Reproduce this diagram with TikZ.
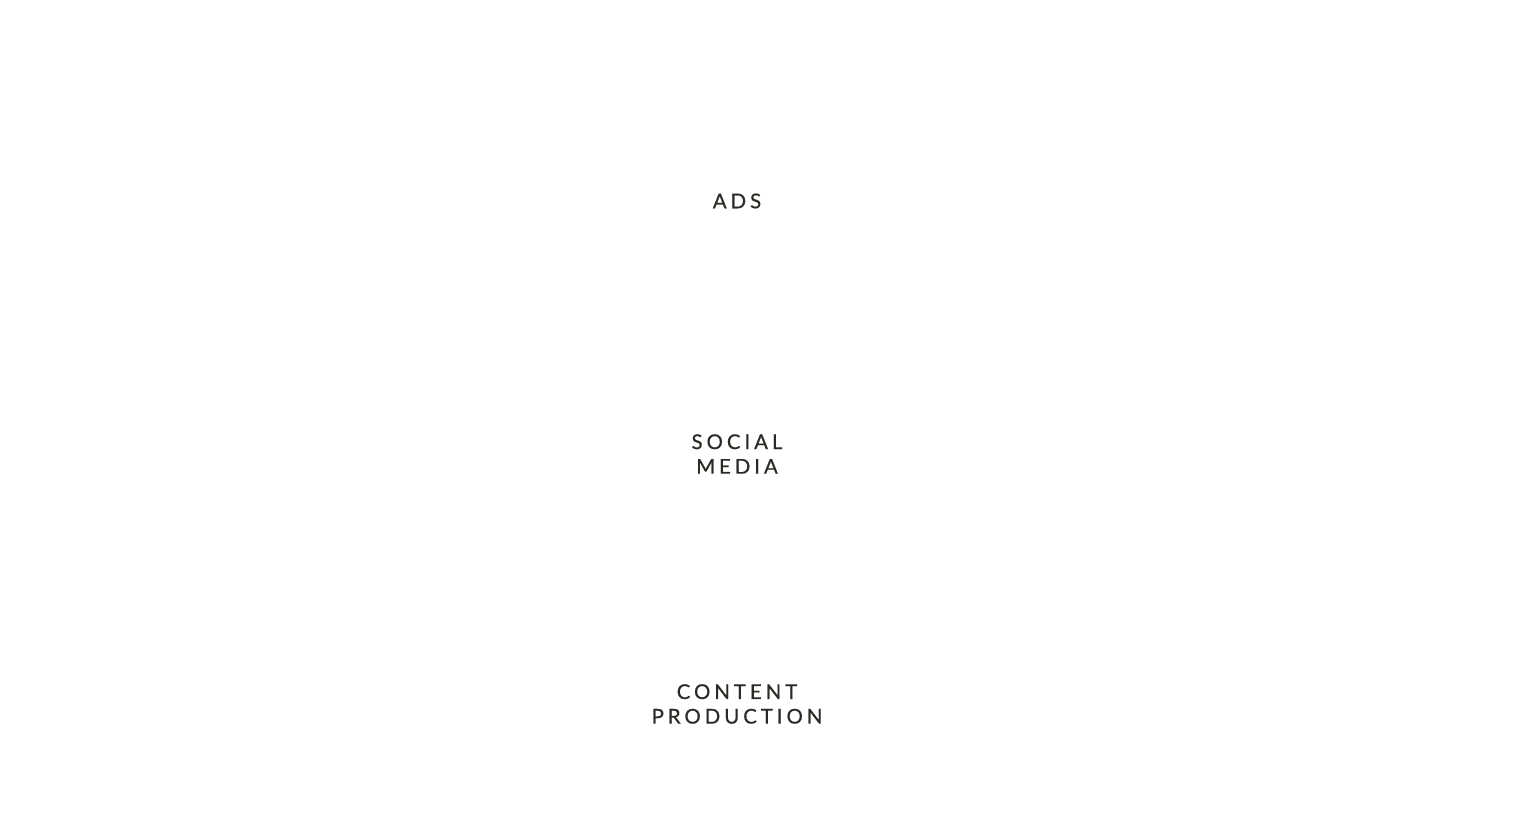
\documentclass[tikz,border=0pt]{standalone}
\usepackage{fontspec}
\setmainfont{Lato}[LetterSpace=19.5,FakeBold=0.6]
\usepackage{tikz}
\usetikzlibrary{positioning}
\definecolor{inkgray}{HTML}{2B2A25}

\begin{document}
\begin{tikzpicture}[
  label/.style={align=center,text=inkgray,font=\fontsize{5.8}{7.0}\selectfont,inner sep=0pt}]
\useasboundingbox (0,0) rectangle (15.27,8.18);
\node[label] (ads) at (7.37,6.17) {ADS};
\node[label] (social) at (7.37,3.64) {SOCIAL\\MEDIA};
\node[label] (content) at (7.37,1.14) {CONTENT\\PRODUCTION};
\end{tikzpicture}
\end{document}
